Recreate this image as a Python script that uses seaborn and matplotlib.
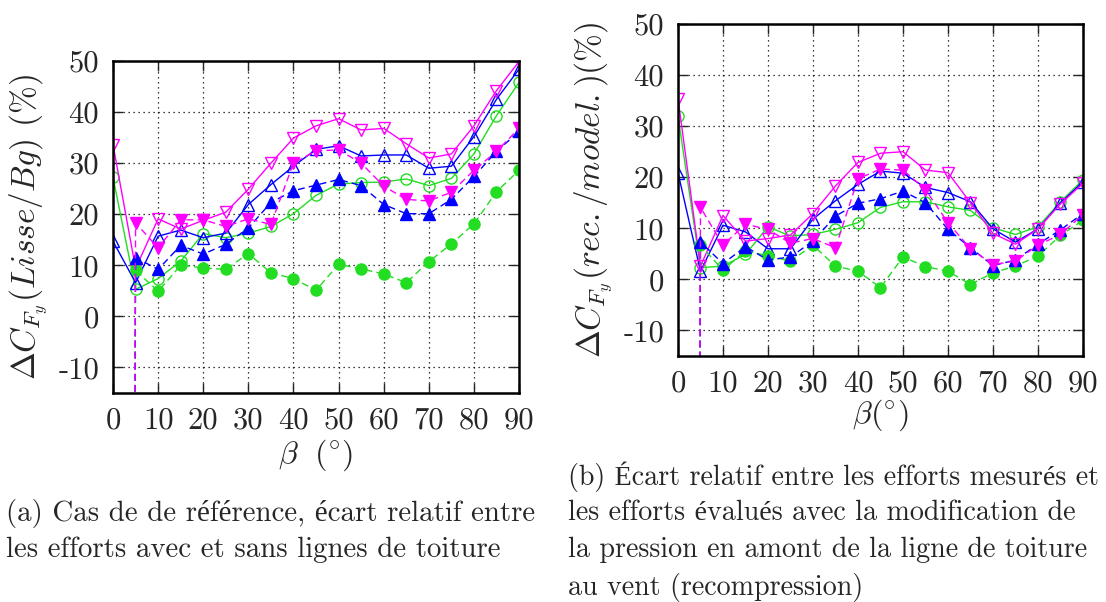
import numpy as np
import pandas as pd
import matplotlib
matplotlib.use('Agg')
import matplotlib.pyplot as plt
import seaborn as sns

# incidence angle beta (deg)
beta = [0, 5, 10, 15, 20, 25, 30, 35, 40, 45, 50, 55, 60, 65, 70, 75, 80, 85, 90]
OFF = -1000.0  # off-scale value at beta=0 for the dashed series

# (a) Lisse / Bg
a_open_mag = [33.6, 9.4, 19.1, 17.1, 18.8, 20.4, 24.9, 30.0, 34.9, 37.3, 38.7, 36.5, 36.8, 33.8, 31.0, 31.8, 37.3, 44.2, 49.9]
a_open_blue = [14.7, 6.6, 15.7, 16.9, 15.4, 16.3, 21.9, 25.8, 29.4, 32.7, 33.4, 31.4, 31.6, 31.6, 29.0, 29.4, 35.2, 42.5, 48.4]
a_open_green = [27.2, 5.3, 7.4, 10.8, 16.2, 15.4, 16.3, 17.6, 20.1, 23.7, 25.9, 26.2, 26.3, 26.9, 25.6, 27.0, 31.8, 39.3, 45.8]
a_fill_mag = [OFF, 18.3, 13.4, 18.9, 18.9, 17.6, 19.1, 18.0, 30.0, 32.4, 32.6, 30.0, 25.5, 22.9, 22.6, 24.3, 28.6, 32.3, 36.8]
a_fill_blue = [OFF, 11.5, 9.2, 13.9, 12.2, 14.1, 17.3, 22.3, 24.6, 25.7, 26.8, 25.6, 21.9, 20.1, 20.1, 22.9, 27.4, 32.3, 36.2]
a_fill_green = [OFF, 9.0, 4.9, 10.0, 9.5, 9.2, 12.3, 8.5, 7.4, 5.1, 10.2, 9.3, 8.3, 6.6, 10.7, 14.2, 18.1, 24.4, 28.6]

# (b) rec. / model.
b_open_mag = [35.4, 2.6, 12.5, 7.5, 8.0, 8.7, 12.9, 18.3, 22.9, 24.7, 25.0, 21.4, 20.9, 15.0, 9.0, 6.9, 9.9, 14.8, 18.8]
b_open_blue = [20.9, 1.6, 10.6, 9.3, 6.0, 6.0, 11.8, 15.4, 18.6, 21.2, 20.8, 18.0, 17.0, 15.2, 9.9, 7.3, 9.9, 15.0, 19.1]
b_open_green = [32.0, 2.3, 2.6, 4.9, 10.3, 8.5, 8.8, 9.8, 11.1, 14.1, 15.2, 15.2, 14.2, 13.5, 10.1, 8.8, 10.3, 15.2, 19.5]
b_fill_mag = [OFF, 14.1, 6.7, 10.8, 9.8, 7.1, 8.0, 6.2, 19.7, 21.6, 21.4, 17.6, 11.1, 6.0, 2.9, 3.6, 6.7, 8.8, 12.7]
b_fill_blue = [OFF, 7.3, 3.1, 6.4, 3.8, 4.4, 7.5, 12.4, 14.9, 15.8, 17.3, 15.0, 9.8, 6.2, 2.7, 3.8, 6.9, 9.7, 12.9]
b_fill_green = [OFF, 6.7, 1.8, 5.6, 4.6, 3.6, 6.7, 2.6, 1.6, -1.6, 4.4, 2.5, 1.6, -1.0, 1.3, 2.6, 4.6, 8.6, 11.6]

yticks = [-10, 0, 10, 20, 30, 40, 50]
xticks = [0, 10, 20, 30, 40, 50, 60, 70, 80, 90]

MAG, BLUE, GREEN = '#ff00ff', '#0000ff', '#22dd22'

sns.set_style('ticks')
plt.rcParams['font.family'] = ['cmr10', 'Liberation Serif']
plt.rcParams['mathtext.fontset'] = 'cm'
plt.rcParams['axes.unicode_minus'] = False
plt.rcParams['axes.formatter.use_mathtext'] = False

fig = plt.figure(figsize=(11.06, 6.02), dpi=100)
axa = fig.add_axes([0.1022, 0.3472, 0.3671, 0.5515])
axb = fig.add_axes([0.6130, 0.4086, 0.3662, 0.5515])


def draw(ax, series):
    for vals, color, mk, filled in series:
        sns.lineplot(x=beta, y=vals, ax=ax, color=color, marker=mk,
                     markersize=8, markerfacecolor=color if filled else 'none',
                     markeredgecolor=color, markeredgewidth=1.0, lw=1.0,
                     linestyle=(0, (5, 3)) if filled else '-', zorder=3)
    ax.set_xlim(0, 90)
    ax.set_ylim(-15, 50)
    ax.set_xticks(xticks)
    ax.set_yticks(yticks)
    ax.grid(True, color='black', linestyle=(0, (1, 3)), lw=0.9)
    ax.tick_params(direction='in', top=True, right=True, length=7, width=1,
                   labelsize=22, pad=10)
    for s in ax.spines.values():
        s.set_linewidth(1.8)
        s.set_color('black')
        s.set_zorder(5)


draw(axa, [(a_open_green, GREEN, 'o', False), (a_open_blue, BLUE, '^', False),
           (a_open_mag, MAG, 'v', False), (a_fill_green, GREEN, 'o', True),
           (a_fill_blue, BLUE, '^', True), (a_fill_mag, MAG, 'v', True)])
draw(axb, [(b_open_green, GREEN, 'o', False), (b_open_blue, BLUE, '^', False),
           (b_open_mag, MAG, 'v', False), (b_fill_green, GREEN, 'o', True),
           (b_fill_blue, BLUE, '^', True), (b_fill_mag, MAG, 'v', True)])

axa.set_xlabel(r'$\beta\ \ (^{\circ})$', fontsize=23, labelpad=2)
axa.set_ylabel(r'$\Delta C_{F_y}(Lisse/Bg)$ (%)', fontsize=24, labelpad=6)
axb.set_xlabel(r'$\beta(^{\circ})$', fontsize=23, labelpad=0)
axb.set_ylabel(r'$\Delta C_{F_y}(rec./model.)$(%)', fontsize=24, labelpad=6)

cap_a = dict(fontsize=20.8, ha='left', va='center')
cap_b = dict(fontsize=20.2, ha='left', va='center')
fig.text(0.005, 1 - 513 / 602, '(a) Cas de de référence, écart relatif entre', **cap_a)
fig.text(0.005, 1 - 550 / 602, 'les efforts avec et sans lignes de toiture', **cap_a)
fig.text(0.514, 1 - 477 / 602, '(b) Écart relatif entre les efforts mesurés et', **cap_b)
fig.text(0.514, 1 - 513 / 602, 'les efforts évalués avec la modification de', **cap_b)
fig.text(0.514, 1 - 550 / 602, 'la pression en amont de la ligne de toiture', **cap_b)
fig.text(0.514, 1 - 587 / 602, 'au vent (recompression)', **cap_b)

fig.savefig('out.png', dpi=100)
